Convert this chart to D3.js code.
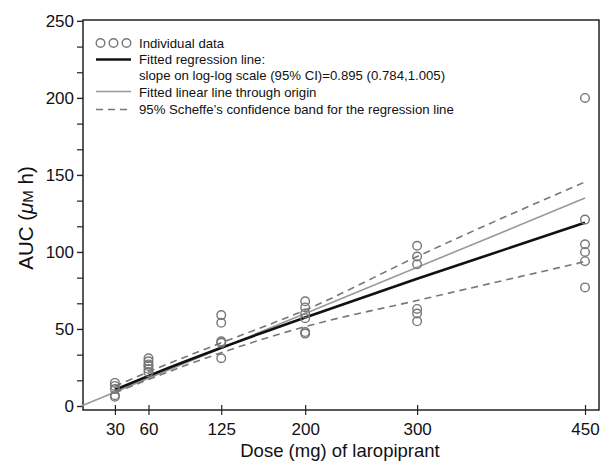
<!DOCTYPE html>
<html>
<head>
<meta charset="utf-8">
<script src="https://cdn.jsdelivr.net/npm/d3@7"></script>
<style>
  body { margin: 0; background: #fff; }
  text { font-family: "Liberation Sans", Arial, sans-serif; fill: #111; }
</style>
</head>
<body>
<svg></svg>
<script>
const width = 602;
const height = 469;

// Dose levels (mg) and individual AUC values
const doses = [30, 60, 125, 200, 300, 450];
const auc30 = [15, 13, 11, 7, 6];
const auc60 = [31, 29, 27, 26, 24, 22];
const auc125 = [59, 54, 42, 41, 31];
const auc200 = [68, 64, 60, 57, 48, 47];
const auc300 = [104, 97, 92, 63, 60, 55];
const auc450 = [200, 121, 105, 100, 94, 77];

// fitted regression line (log-log) read at each dose
const fitLine = [10.5, 19.5, 37.8, 57.5, 82.6, 119];
// Scheffe band
const bandUpper = [12.8, 22.2, 41, 62.3, 97, 145.5];
const bandLower = [8.6, 17.2, 34.6, 51.5, 68.5, 93.7];
// linear fit through origin
const originDoses = [0, 450];
const originLine = [0, 135];

const yTicks = [0, 50, 100, 150, 200, 250];

const legendItems = [
  "Individual data",
  "Fitted regression line:",
  "slope on log-log scale (95% CI)=0.895 (0.784,1.005)",
  "Fitted linear line through origin",
  "95% Scheffe\u2019s confidence band for the regression line"
];

var svg = d3.select("svg")
  .attr("width", width)
  .attr("height", height);

const x = d3.scaleLinear()
  .domain([1.5, 462.5])
  .range([83, 599]);

const y = d3.scaleLinear()
  .domain([-2.6, 250.6])
  .range([410, 20]);

const allPoints = [auc30, auc60, auc125, auc200, auc300, auc450]
  .flatMap((arr, i) => arr.map(v => ({ dose: doses[i], auc: v })));

// frame
svg.append("rect")
  .attr("x", x.range()[0])
  .attr("y", y.range()[1])
  .attr("width", x.range()[1] - x.range()[0])
  .attr("height", y.range()[0] - y.range()[1])
  .attr("fill", "none")
  .attr("stroke", "#222")
  .attr("stroke-width", 1.5);

// y axis
const minorY = d3.range(0, 251, 50 / 3);
svg.append("g")
  .attr("transform", "translate(" + x.range()[0] + ",0)")
  .call(d3.axisLeft(y).tickValues(minorY).tickSize(6).tickFormat(""))
  .call(g => g.select(".domain").remove())
  .selectAll("line").attr("stroke", "#222").attr("stroke-width", 1.2);

svg.append("g")
  .attr("transform", "translate(" + x.range()[0] + ",0)")
  .call(d3.axisLeft(y).tickValues(yTicks).tickSize(6).tickPadding(3))
  .call(g => g.select(".domain").remove())
  .call(g => g.selectAll("line").attr("stroke", "#222").attr("stroke-width", 1.2))
  .selectAll("text")
  .attr("font-size", 17)
  .attr("font-family", "Liberation Sans, Arial, sans-serif")
  .attr("fill", "#111");

// x axis
const xg = svg.append("g")
  .attr("transform", "translate(0," + y.range()[0] + ")")
  .call(d3.axisBottom(x).tickValues(doses).tickSize(5).tickPadding(8))
  .call(g => g.select(".domain").remove());
xg.selectAll("line").attr("y1", -5).attr("stroke", "#222").attr("stroke-width", 1.2);
xg.selectAll("text")
  .attr("font-size", 17)
  .attr("font-family", "Liberation Sans, Arial, sans-serif")
  .attr("fill", "#111");

// axis titles
svg.append("text")
  .attr("x", 340)
  .attr("y", 457)
  .attr("text-anchor", "middle")
  .attr("font-size", 18.5)
  .text("Dose (mg) of laropiprant");

const yt = svg.append("text")
  .attr("transform", "translate(33,218) rotate(-90)")
  .attr("text-anchor", "middle")
  .attr("font-size", 20.5);
yt.append("tspan").text("AUC (");
yt.append("tspan").attr("font-style", "italic").text("\u03bc");
yt.append("tspan").attr("font-size", 15).text("M");
yt.append("tspan").text(" h)");

// lines
const line = d3.line()
  .x(d => x(d[0]))
  .y(d => y(d[1]));

svg.append("path")
  .datum(d3.zip(originDoses, originLine))
  .attr("d", line)
  .attr("fill", "none")
  .attr("stroke", "#999")
  .attr("stroke-width", 1.6);

[bandUpper, bandLower].forEach(band => {
  svg.append("path")
    .datum(d3.zip(doses, band))
    .attr("d", line.curve(d3.curveMonotoneX))
    .attr("fill", "none")
    .attr("stroke", "#777")
    .attr("stroke-width", 1.6)
    .attr("stroke-dasharray", "7,5");
});

svg.append("path")
  .datum(d3.zip(doses, fitLine))
  .attr("d", line.curve(d3.curveMonotoneX))
  .attr("fill", "none")
  .attr("stroke", "#111")
  .attr("stroke-width", 2.6);

// points
svg.append("g")
  .selectAll("circle")
  .data(allPoints)
  .enter().append("circle")
  .attr("cx", d => x(d.dose))
  .attr("cy", d => y(d.auc))
  .attr("r", 4.3)
  .attr("fill", "none")
  .attr("stroke", "#777")
  .attr("stroke-width", 1.4);

// legend
const lg = svg.append("g").attr("transform", "translate(96,0)");
[0, 13, 26].forEach(dx => {
  lg.append("circle")
    .attr("cx", 4.5 + dx).attr("cy", 43).attr("r", 4.3)
    .attr("fill", "none").attr("stroke", "#777").attr("stroke-width", 1.4);
});
lg.append("line").attr("x1", 0).attr("x2", 35).attr("y1", 59.5).attr("y2", 59.5)
  .attr("stroke", "#111").attr("stroke-width", 2.6);
lg.append("line").attr("x1", 0).attr("x2", 35).attr("y1", 91.5).attr("y2", 91.5)
  .attr("stroke", "#999").attr("stroke-width", 1.6);
lg.append("line").attr("x1", 0).attr("x2", 35).attr("y1", 109.5).attr("y2", 109.5)
  .attr("stroke", "#777").attr("stroke-width", 1.6).attr("stroke-dasharray", "7,5");

const legendY = [43, 59, 75, 92, 109];
legendItems.forEach((t, i) => {
  lg.append("text")
    .attr("x", 43)
    .attr("y", legendY[i])
    .attr("dy", "0.35em")
    .attr("font-size", 13.2)
    .text(t);
});
</script>
</body>
</html>
